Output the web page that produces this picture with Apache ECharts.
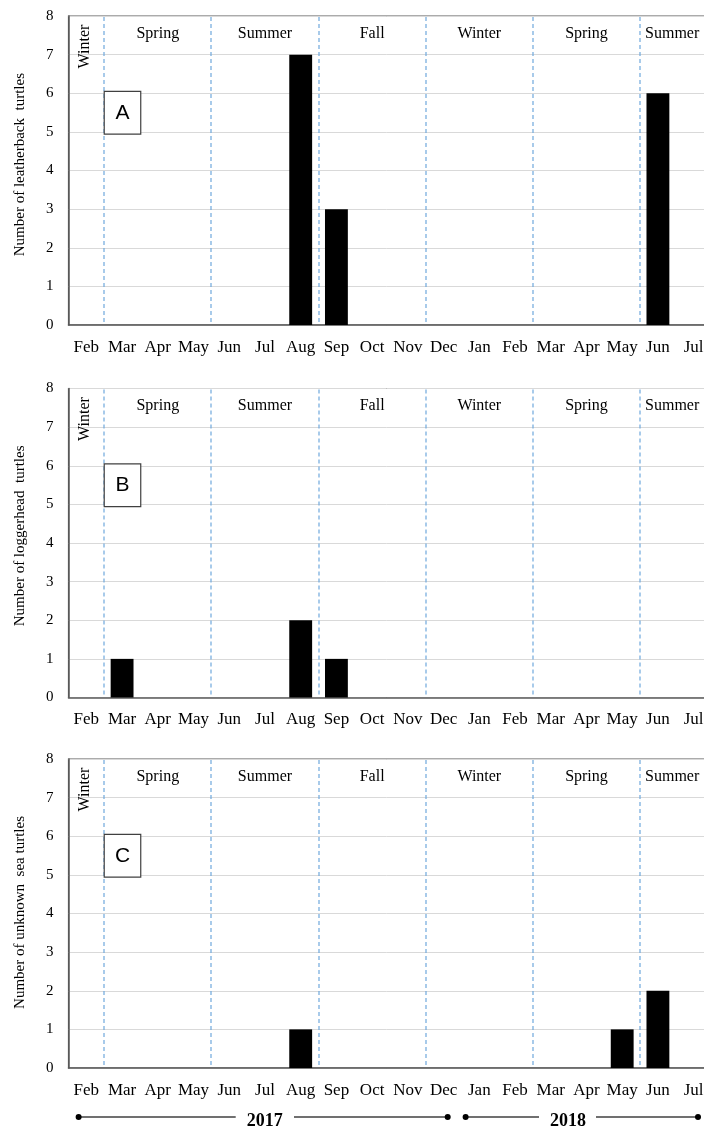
<!DOCTYPE html>
<html><head><meta charset="utf-8">
<script src="https://cdn.jsdelivr.net/npm/echarts@6/dist/echarts.min.js"></script>
<style>html,body{margin:0;padding:0;background:#fff}#c{width:704px;height:1128px}</style>
</head><body><div id="c"></div>
<script>
// ---- data ----
const months = ['Feb','Mar','Apr','May','Jun','Jul','Aug','Sep','Oct','Nov','Dec','Jan','Feb','Mar','Apr','May','Jun','Jul'];
const leatherback = [0,0,0,0,0,0,7,3,0,0,0,0,0,0,0,0,6,0];
const loggerhead  = [0,1,0,0,0,0,2,1,0,0,0,0,0,0,0,0,0,0];
const unknownSea  = [0,0,0,0,0,0,1,0,0,0,0,0,0,0,0,1,2,0];
const yTicks = [0,1,2,3,4,5,6,7,8];
const seasonNames = ['Winter','Spring','Summer','Fall','Winter','Spring','Summer'];
const seasonStart = [0,1,4,7,10,13,16];
const seasonEnd   = [0,3,6,9,12,15,17];
const panelLetters = ['A','B','C'];
const yNames = ['Number of leatherback  turtles','Number of loggerhead  turtles','Number of unknown  sea turtles'];
const yearLabels = ['2017','2018'];

// ---- layout ----
const SERIF = '"Liberation Serif","Times New Roman",serif';
const seriesData = [leatherback, loggerhead, unknownSea];
const gridTops = [16, 388.5, 759];
const gridH = 309;
const gridLeft = 68.5, gridW = 643;
const boundaries = seasonStart.filter(i => i > 0);

const chart = echarts.init(document.getElementById('c'), null, {renderer:'canvas'});
const grids = [], xAxes = [], yAxes = [], series = [];
for (let i = 0; i < 3; i++) {
  grids.push({left:gridLeft, top:gridTops[i], width:gridW, height:gridH, show:true,
    borderColor:'#595959', borderWidth:1.2, backgroundColor:'transparent', containLabel:false, outerBoundsMode:'none'});
  xAxes.push({type:'category', gridIndex:i, data:months, boundaryGap:true,
    axisLine:{show:true, lineStyle:{color:'#595959', width:1.5}},
    axisTick:{show:false},
    axisLabel:{interval:0, color:'#000', fontFamily:SERIF, fontSize:17, margin:14, hideOverlap:false},
    splitLine:{show:false}});
  yAxes.push({type:'value', gridIndex:i, min:yTicks[0], max:yTicks[yTicks.length-1], interval:1,
    axisLine:{show:true, lineStyle:{color:'#595959', width:1.5}},
    axisTick:{show:false},
    axisLabel:{color:'#000', fontFamily:SERIF, fontSize:15, margin:15},
    splitLine:{show:true, lineStyle:{color:'#d9d9d9', width:1}}});
  series.push({type:'bar', xAxisIndex:i, yAxisIndex:i, data:seriesData[i],
    itemStyle:{color:'#000'}, barCategoryGap:'36%', silent:true, z:3});
}
chart.setOption({animation:false, backgroundColor:'#fff', grid:grids, xAxis:xAxes, yAxis:yAxes, series:series});

// ---- annotations ----
const g = [];
for (let i = 0; i < 3; i++) {
  const px = k => chart.convertToPixel({xAxisIndex:i}, k);
  const py = v => chart.convertToPixel({yAxisIndex:i}, v);
  const band = px(1) - px(0);
  const top = gridTops[i];
  // y-axis title
  g.push({type:'text', x:20, y:top+57, rotation:Math.PI/2, z:10,
    style:{text:yNames[i], font:'15px '+SERIF, fill:'#000', align:'right', verticalAlign:'middle'}});
  // season boundary dashed lines
  boundaries.forEach(b => {
    const x = Math.round(px(b) - band/2);
    g.push({type:'line', z:1, silent:true, shape:{x1:x, y1:py(8)+1, x2:x, y2:py(0)-1},
      style:{stroke:'#6FA8DC', lineWidth:1.2, lineDash:[4,3]}});
  });
  seasonNames.forEach((name, s) => {
    const a = seasonStart[s], b = seasonEnd[s];
    if (a === b) {
      g.push({type:'text', x:px(a)-1.5, y:top+30.5, rotation:Math.PI/2, z:10,
        style:{text:name, font:'16px '+SERIF, fill:'#000', align:'center', verticalAlign:'middle'}});
    } else if (b === months.length-1) {
      g.push({type:'text', x:px(a)-band/2+5, y:top+17.5, z:10,
        style:{text:name, font:'16px '+SERIF, fill:'#000', align:'left', verticalAlign:'middle'}});
    } else {
      g.push({type:'text', x:(px(a)+px(b))/2, y:top+17.5, z:10,
        style:{text:name, font:'16px '+SERIF, fill:'#000', align:'center', verticalAlign:'middle'}});
    }
  });
  const bx = px(1) - band/2, by = py(6.05), bh = py(4.94) - by;
  g.push({type:'rect', shape:{x:bx, y:by, width:band+0.8, height:bh}, z:10,
    style:{fill:'#fff', stroke:'#404040', lineWidth:1.2}});
  g.push({type:'text', x:bx+band/2+0.4, y:by+bh/2, z:11,
    style:{text:panelLetters[i], font:'21px "Liberation Sans",Arial,sans-serif', fill:'#000', align:'center', verticalAlign:'middle'}});
}
// year timeline
const ty = 1117;
const segs = [[78.6,235.7,264.7,294,447.7],[465.6,539,568,596,698]];
segs.forEach((s, k) => {
  g.push({type:'line', shape:{x1:s[0], y1:ty, x2:s[1], y2:ty}, style:{stroke:'#404040', lineWidth:1.5}});
  g.push({type:'line', shape:{x1:s[3], y1:ty, x2:s[4], y2:ty}, style:{stroke:'#404040', lineWidth:1.5}});
  g.push({type:'circle', shape:{cx:s[0], cy:ty, r:3}, style:{fill:'#000'}});
  g.push({type:'circle', shape:{cx:s[4], cy:ty, r:3}, style:{fill:'#000'}});
  g.push({type:'text', x:s[2], y:ty+4, style:{text:yearLabels[k], font:'bold 18px '+SERIF, fill:'#000', align:'center', verticalAlign:'middle'}});
});
chart.setOption({graphic:g});
</script></body></html>
